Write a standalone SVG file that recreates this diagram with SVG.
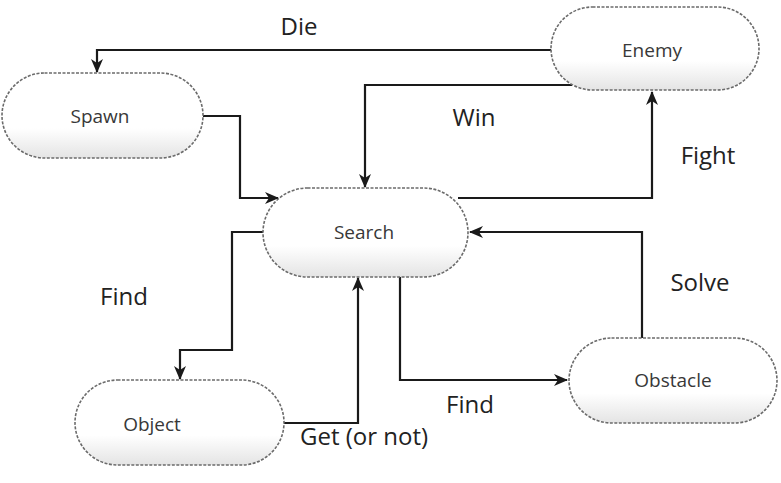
<svg xmlns="http://www.w3.org/2000/svg" width="781" height="483" viewBox="0 0 781 483">
<style>
.node{fill:url(#shade);stroke:#6b6b6b;stroke-width:1.6;stroke-dasharray:3 1.5}
.nt{font-family:"Open Sans","Liberation Sans",sans-serif;font-size:19px;fill:#383838;text-anchor:middle}
.lbl{font-family:"Open Sans","Liberation Sans",sans-serif;font-size:24px;fill:#222;text-anchor:middle}
.con{fill:none;stroke:#1a1a1a;stroke-width:2.2;marker-end:url(#arr)}
</style>
<defs>
<linearGradient id="shade" x1="0" y1="0" x2="0" y2="1">
<stop offset="0" stop-color="#fff"/>
<stop offset="0.65" stop-color="#fff"/>
<stop offset="1" stop-color="#e4e4e4"/>
</linearGradient>
<marker id="arr" viewBox="0 0 14 12" refX="13" refY="6" markerWidth="14" markerHeight="12" markerUnits="userSpaceOnUse" orient="auto">
<path d="M0,0 L14,6 L0,12 L4,6 Z" fill="#1a1a1a"/>
</marker>
</defs>
<g id="connectors">
<path class="con" d="M555,50 H97 V72"/>
<path class="con" d="M572,85 H365 V187"/>
<path class="con" d="M203,116 H240 V198 H278"/>
<path class="con" d="M458,198 H652 V92"/>
<path class="con" d="M642,338 V232 H470"/>
<path class="con" d="M264,232 H232 V350 H180 V379"/>
<path class="con" d="M284,423 H358 V278"/>
<path class="con" d="M400,277 V380 H567"/>
</g>
<g id="spawn"><rect class="node" x="2" y="73" width="201" height="85" rx="42.5"/><text class="nt" x="100" y="123">Spawn</text></g>
<g id="enemy"><rect class="node" x="551" y="7" width="208" height="83" rx="41.5"/><text class="nt" x="652" y="57">Enemy</text></g>
<g id="search"><rect class="node" x="263" y="188" width="205" height="89" rx="44.5"/><text class="nt" x="364" y="239">Search</text></g>
<g id="object"><rect class="node" x="75" y="380" width="209" height="85" rx="42.5"/><text class="nt" x="152" y="431">Object</text></g>
<g id="obstacle"><rect class="node" x="569" y="338" width="208" height="85" rx="42.5"/><text class="nt" x="673" y="387">Obstacle</text></g>
<g id="labels">
<text class="lbl" x="299" y="35">Die</text>
<text class="lbl" x="474" y="126">Win</text>
<text class="lbl" x="708" y="164">Fight</text>
<text class="lbl" x="700" y="291">Solve</text>
<text class="lbl" x="124" y="305">Find</text>
<text class="lbl" x="470" y="413">Find</text>
<text class="lbl" x="364" y="445">Get (or not)</text>
</g>
</svg>
